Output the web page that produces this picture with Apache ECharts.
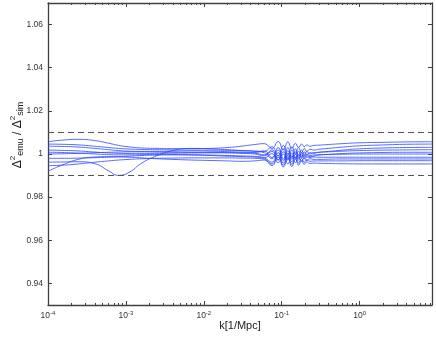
<!DOCTYPE html>
<html><head><meta charset="utf-8">
<script src="https://cdn.jsdelivr.net/npm/echarts@6/dist/echarts.min.js"></script>
<style>html,body{margin:0;padding:0;background:#fff}#c{width:436px;height:337px}</style>
</head><body><div id="c"></div>
<script>
// k values [1/Mpc]
const kValues = [1e-4,1.5e-4,2.5e-4,4e-4,6e-4,8e-4,1.1e-3,1.6e-3,2.5e-3,4e-3,7e-3,1.2e-2,2e-2,3e-2,4.5e-2,0.06,0.075,0.09,0.105,0.12,0.135,0.15,0.165,0.18,0.195,0.21,0.23,0.26,0.3,0.4,0.6,1,2,4,8.5];
const ratioA = [1.0057,1.0064,1.0068,1.0062,1.0050,1.0040,1.0033,1.0028,1.0026,1.0025,1.0025,1.0026,1.0030,1.0036,1.0044,1.0048,1.0026,1.0058,1.0020,1.0056,1.0026,1.0050,1.0030,1.0046,1.0034,1.0042,1.0036,1.0040,1.0041,1.0044,1.0048,1.0052,1.0054,1.0056,1.0057];
const ratioB = [1.0046,1.0045,1.0042,1.0036,1.0030,1.0026,1.0023,1.0021,1.0020,1.0019,1.0018,1.0018,1.0017,1.0016,1.0014,1.0012,1.0034,0.9992,1.0040,0.9994,1.0034,1.0000,1.0030,1.0006,1.0026,1.0012,1.0022,1.0018,1.0022,1.0026,1.0032,1.0038,1.0042,1.0045,1.0046];
const ratioC = [1.0036,1.0035,1.0032,1.0026,1.0020,1.0016,1.0013,1.0012,1.0012,1.0013,1.0014,1.0013,1.0011,1.0009,1.0007,1.0014,0.9984,1.0030,0.9978,1.0030,0.9984,1.0024,0.9990,1.0018,0.9996,1.0012,1.0000,1.0006,1.0008,1.0012,1.0018,1.0024,1.0028,1.0030,1.0031];
const ratioD = [1.0018,1.0017,1.0014,1.0009,1.0005,1.0003,1.0002,1.0002,1.0003,1.0004,1.0005,1.0006,1.0007,1.0006,1.0004,0.9996,1.0020,0.9974,1.0024,0.9976,1.0018,0.9982,1.0014,0.9988,1.0010,0.9994,1.0006,1.0004,1.0008,1.0010,1.0013,1.0016,1.0018,1.0019,1.0020];
const ratioE = [1.0008,1.0007,1.0004,1.0000,0.9997,0.9996,0.9996,0.9997,0.9998,0.9998,0.9997,0.9995,0.9993,0.9991,0.9989,0.9982,0.9962,1.0006,0.9958,1.0004,0.9964,0.9998,0.9972,0.9996,0.9978,0.9992,0.9984,0.9990,0.9995,0.9998,1.0002,1.0005,1.0007,1.0008,1.0008];
const ratioF = [0.9962,0.9963,0.9964,0.9955,0.9922,0.9901,0.9915,0.9958,0.9992,1.0016,1.0026,1.0024,1.0020,1.0016,1.0012,1.0006,0.9978,1.0018,0.9970,1.0016,0.9976,1.0010,0.9980,1.0006,0.9986,1.0000,0.9992,0.9996,0.9997,0.9998,0.9999,1.0000,1.0000,1.0000,1.0000];
const ratioG = [0.9920,0.9948,0.9976,0.9986,0.9988,0.9987,0.9985,0.9982,0.9978,0.9975,0.9972,0.9970,0.9968,0.9966,0.9968,0.9972,0.9946,0.9986,0.9940,0.9984,0.9942,0.9976,0.9948,0.9970,0.9952,0.9964,0.9956,0.9958,0.9957,0.9956,0.9955,0.9954,0.9954,0.9954,0.9954];
const ratioH = [0.9980,0.9980,0.9981,0.9983,0.9985,0.9987,0.9990,0.9993,0.9995,0.9996,0.9995,0.9993,0.9990,0.9988,0.9986,0.9982,1.0002,0.9960,1.0000,0.9954,0.9992,0.9960,0.9986,0.9966,0.9982,0.9970,0.9978,0.9975,0.9975,0.9976,0.9977,0.9977,0.9977,0.9977,0.9977];
const ratioI = [0.9946,0.9948,0.9954,0.9962,0.9968,0.9972,0.9975,0.9978,0.9980,0.9981,0.9982,0.9982,0.9982,0.9981,0.9980,0.9976,0.9954,0.9994,0.9948,0.9992,0.9952,0.9986,0.9958,0.9980,0.9962,0.9974,0.9966,0.9968,0.9968,0.9968,0.9968,0.9969,0.9969,0.9969,0.9969];
const ratioJ = [1.0000,1.0001,1.0003,1.0006,1.0008,1.0009,1.0010,1.0010,1.0009,1.0008,1.0007,1.0006,1.0005,1.0003,1.0000,0.9992,1.0012,0.9972,1.0010,0.9972,1.0004,0.9978,0.9998,0.9982,0.9994,0.9984,0.9988,0.9986,0.9985,0.9985,0.9985,0.9985,0.9985,0.9985,0.9985];
const allRatios = [ratioA,ratioB,ratioC,ratioD,ratioE,ratioF,ratioG,ratioH,ratioI,ratioJ];
const toleranceLines = [1.01, 0.99];
const xTickValues = [1e-4,1e-3,1e-2,1e-1,1];
const yTickValues = [0.94,0.96,0.98,1,1.02,1.04,1.06];
const xRange = [1e-4, 8.5];
const yRange = [0.93, 1.07];

const FONT = 'Liberation Sans, Arial, sans-serif';
const chart = echarts.init(document.getElementById('c'), null, {renderer:'canvas'});

function xFmt(v){
  const lg = Math.log10(v), e = Math.round(lg);
  if (Math.abs(lg-e) > 1e-6 || !xTickValues.some(t => Math.abs(Math.log10(t)-e) < 1e-6)) return '';
  return '{b|10}{s|' + e + '}';
}
function yFmt(v){
  return String(+(+v).toFixed(2));
}
const axisLineStyle = {color:'#404040', width:1.3};
const xBase = {
  type:'log', logBase:10, min:xRange[0], max:xRange[1], interval:1,
  axisLine:{show:true, lineStyle:axisLineStyle},
  axisTick:{show:true, inside:true, length:4, lineStyle:{color:'#404040', width:1}},
  minorTick:{show:true, splitNumber:9, length:2, lineStyle:{color:'#404040', width:1}},
  splitLine:{show:false}, minorSplitLine:{show:false}
};
const yBase = {
  type:'value', min:yRange[0], max:yRange[1],
  axisLine:{show:true, lineStyle:axisLineStyle},
  axisTick:{show:true, inside:true, length:4, lineStyle:{color:'#404040', width:1}, customValues:yTickValues},
  splitLine:{show:false}
};
const series = allRatios.map((arr, i) => ({
  type:'line', xAxisIndex:0, yAxisIndex:0,
  data: kValues.map((k, j) => [k, arr[j]]),
  showSymbol:false, smooth:0.5,
  lineStyle:{color:'#2b47ff', width:0.9, opacity:0.9},
  silent:true, animation:false
}));
series.push({
  type:'line', data:[], silent:true, animation:false,
  markLine:{
    symbol:['none','none'], silent:true, label:{show:false}, animation:false,
    lineStyle:{color:'#555', width:1, type:[6,4]},
    data: toleranceLines.map(v => ({yAxis:v}))
  }
});
chart.setOption({
  animation:false,
  backgroundColor:'#fff',
  grid:{left:48, right:4, top:3, bottom:32, outerBoundsMode:'none', containLabel:false},
  xAxis:[
    Object.assign({}, xBase, {position:'bottom',
      name:'k[1/Mpc]', nameLocation:'middle', nameGap:15, nameMoveOverlap:false,
      nameTextStyle:{fontFamily:FONT, fontSize:11, color:'#222'},
      axisLabel:{show:true, margin:5, formatter:xFmt, rich:{
        b:{fontFamily:FONT, fontSize:8.5, color:'#333'},
        s:{fontFamily:FONT, fontSize:6, color:'#333', padding:[0,0,6,0]}
      }}}),
    Object.assign({}, xBase, {position:'top', axisLabel:{show:false}})
  ],
  yAxis:[
    Object.assign({}, yBase, {position:'left',
      name:'{d|Δ}{u|2}{l|emu}{d| / Δ}{u|2}{l|sim}', nameLocation:'middle', nameGap:22, nameRotate:90,
      nameMoveOverlap:false,
      nameTextStyle:{fontFamily:FONT, fontSize:12, color:'#222', padding:[0,0,0,38], rich:{
        d:{fontFamily:FONT, fontSize:12, color:'#222'},
        u:{fontFamily:FONT, fontSize:8, color:'#222', padding:[0,0,9,0]},
        l:{fontFamily:FONT, fontSize:9, color:'#222', padding:[7,0,0,0]}
      }},
      axisLabel:{show:true, margin:5, formatter:yFmt, customValues:yTickValues, fontFamily:FONT, fontSize:8.5, color:'#333'}}),
    Object.assign({}, yBase, {position:'right', axisLabel:{show:false}})
  ],
  series
});
</script></body></html>
